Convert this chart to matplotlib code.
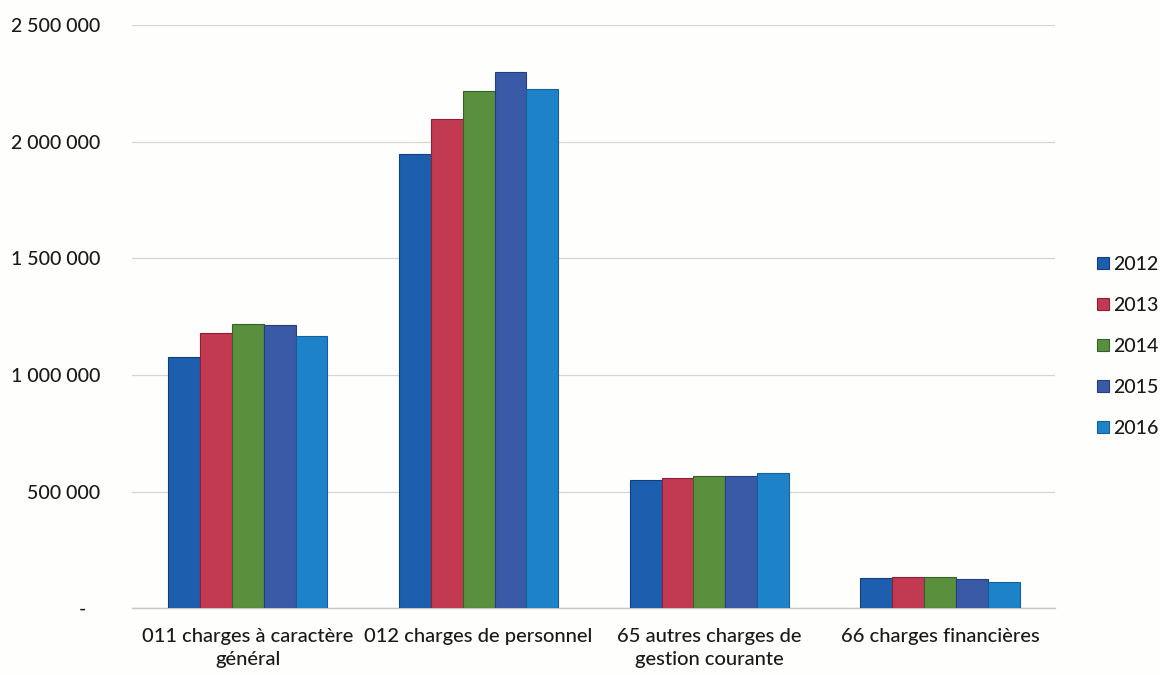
import matplotlib
matplotlib.use("Agg")
import matplotlib.pyplot as plt
import numpy as np

categories = ["011 charges à caractère\ngénéral",
              "012 charges de personnel",
              "65 autres charges de\ngestion courante",
              "66 charges financières"]
years = ["2012", "2013", "2014", "2015", "2016"]
values_2012 = [1079000, 1949000, 550000, 131000]
values_2013 = [1182000, 2099000, 557000, 136000]
values_2014 = [1220000, 2215000, 566000, 133000]
values_2015 = [1216000, 2297000, 569000, 124000]
values_2016 = [1165000, 2224000, 579000, 111000]
series = [values_2012, values_2013, values_2014, values_2015, values_2016]
colors = ["#1d5fae", "#c23a52", "#5a8f3e", "#3a5aa8", "#1e82c8"]
edges = ["#123f80", "#8e1f34", "#35622a", "#243f80", "#14609a"]
yticks = [0, 500000, 1000000, 1500000, 2000000, 2500000]
ytick_labels = ["-   ", "500 000", "1 000 000", "1 500 000", "2 000 000", "2 500 000"]

plt.rcParams["font.family"] = ["Lato", "DejaVu Sans"]

fig = plt.figure(figsize=(11.6, 6.75), dpi=100)
fig.patch.set_facecolor("#fefefc")
ax = fig.add_axes([0.1142, 0.0988, 0.7957, 0.8642])
ax.set_facecolor("#fefefc")

x = np.arange(len(categories))
n = len(series)
bar_w = 0.138
for i, (vals, c, ec) in enumerate(zip(series, colors, edges)):
    offs = (i - (n - 1) / 2) * bar_w
    ax.bar(x + offs, vals, width=bar_w, color=c, edgecolor=ec,
           linewidth=0.8, label=years[i], zorder=3)

ax.set_xlim(-0.5, len(categories) - 0.5)
ax.set_ylim(0, 2500000)
ax.set_yticks(yticks)
ax.set_yticklabels(ytick_labels, fontsize=14, color="#1a1a1a", fontweight="medium")
ax.set_xticks(x)
ax.set_xticklabels(categories, fontsize=14.5, color="#1a1a1a", linespacing=1.45,
                   fontweight="medium")
ax.tick_params(axis="y", length=0, pad=23)
ax.tick_params(axis="x", length=0, pad=14)

ax.yaxis.grid(True, color="#d6d6d2", linewidth=0.9, zorder=0)
for s in ["top", "right", "left"]:
    ax.spines[s].set_visible(False)
ax.spines["bottom"].set_color("#c8c8c4")
ax.spines["bottom"].set_linewidth(1.0)

leg = ax.legend(loc="center left", bbox_to_anchor=(1.026, 0.449), frameon=False,
                prop={"size": 14, "weight": "medium"},
                handlelength=0.6, handleheight=0.6,
                handletextpad=0.25, labelspacing=1.24)
for t in leg.get_texts():
    t.set_color("#1a1a1a")

fig.savefig("out.png", dpi=100, facecolor=fig.get_facecolor())
